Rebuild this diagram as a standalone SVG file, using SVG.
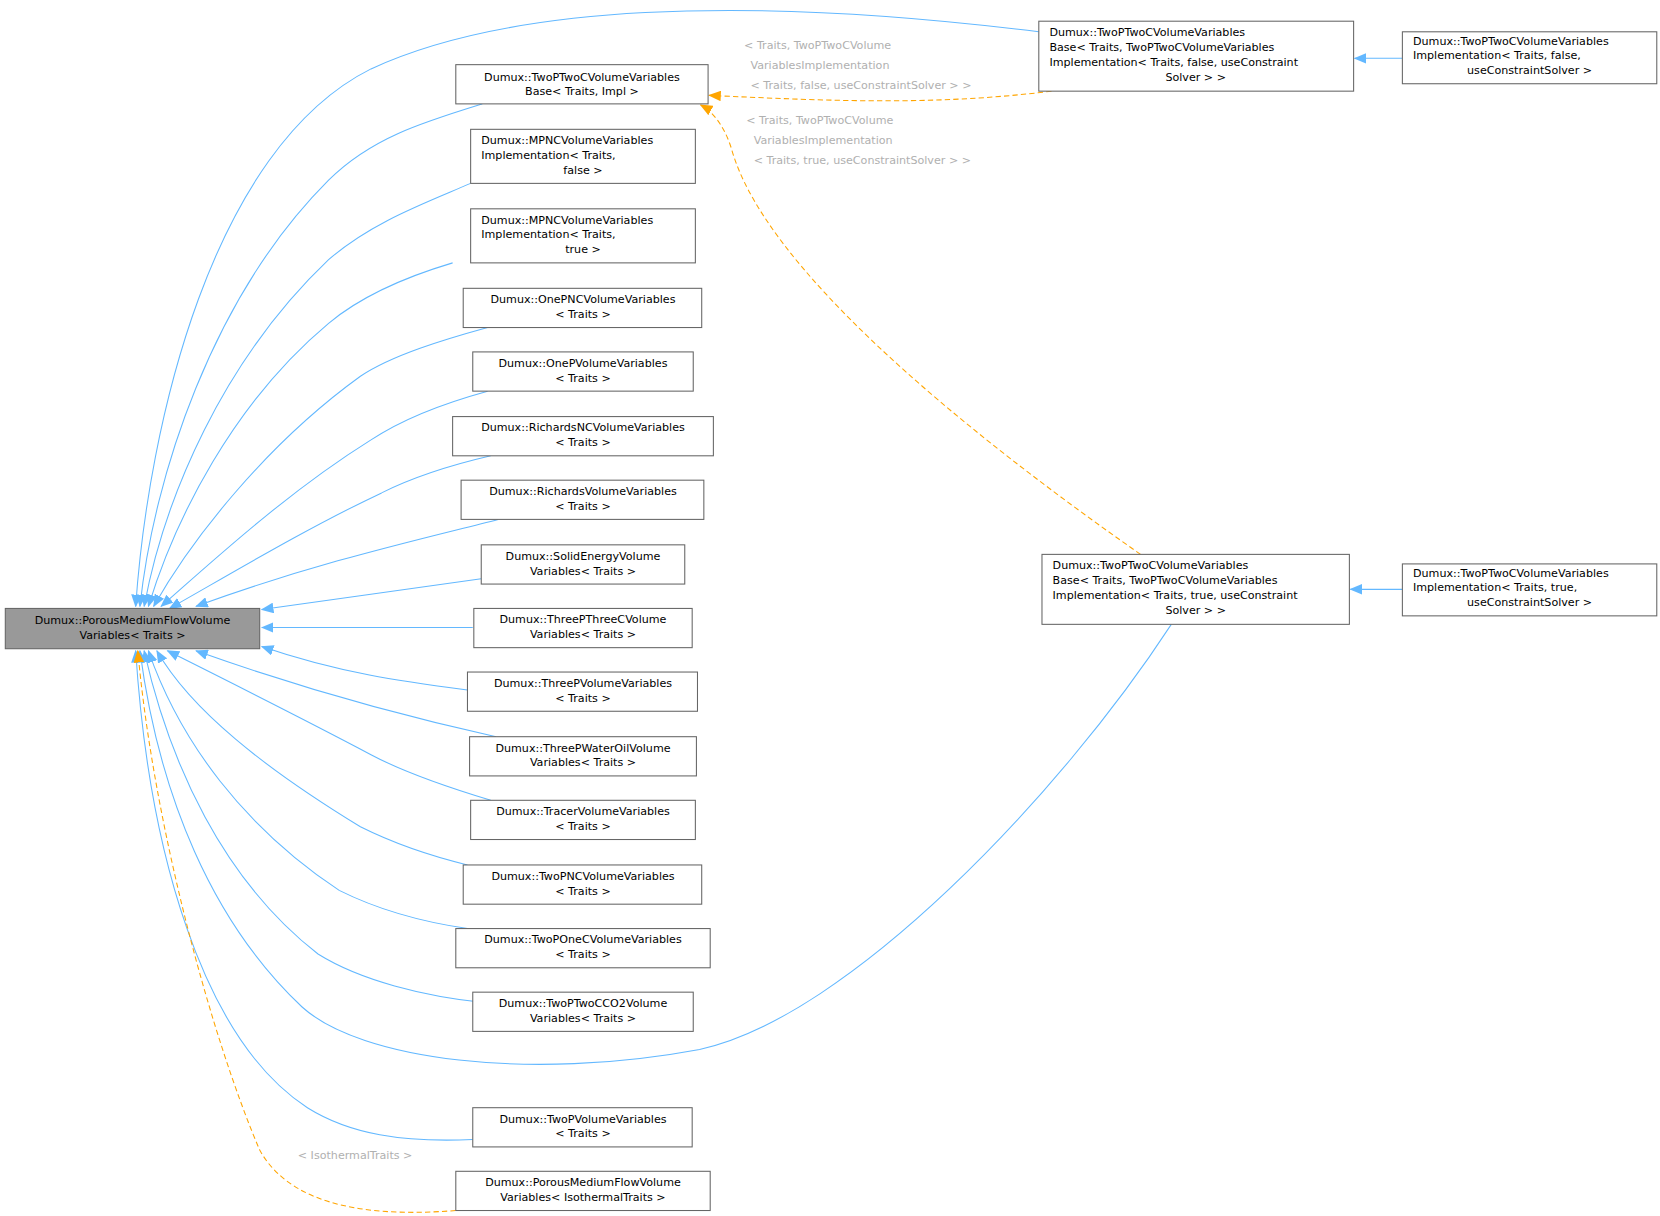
<svg xmlns="http://www.w3.org/2000/svg" width="1660" height="1216" viewBox="0 0 1660 1216">
<style>
.n rect{fill:#fff;stroke:#666;stroke-width:1}
.m rect{fill:#999;stroke:#666}
text{font-family:"DejaVu Sans",sans-serif;font-size:10.5px;fill:#000}
.c{text-anchor:middle}
.b{fill:none;stroke:#63b8ff;stroke-width:1;marker-end:url(#ab)}
.o{fill:none;stroke:#ffa500;stroke-width:1;stroke-dasharray:5,3;marker-end:url(#ao)}
.l{fill:#b0b0b0;font-size:10.5px}
</style>
<defs>
<marker id="ab" markerWidth="12" markerHeight="10" refX="11" refY="5" orient="auto" markerUnits="userSpaceOnUse"><path d="M0,0L12,5L0,10z" fill="#63b8ff"/></marker>
<marker id="ao" markerWidth="12" markerHeight="10" refX="11" refY="5" orient="auto" markerUnits="userSpaceOnUse"><path d="M0,0L12,5L0,10z" fill="#ffa500"/></marker>
</defs>
<rect width="1660" height="1216" fill="#fff"/>
<g transform="scale(1.06)">
<g id="edges">
<path class="b" d="M980,30C700,-5 480,5 350,65C200,140 140,400 128,572"/>
<path class="b" d="M455,98C400,115 350,130 310,170C200,280 145,450 132,572"/>
<path class="b" d="M444,173C400,192 350,210 310,245C210,340 155,470 136,572"/>
<path class="b" d="M427,248C380,262 340,280 310,305C220,380 165,490 140,572"/>
<path class="b" d="M460,309C420,320 370,335 340,355C250,420 180,510 145,572"/>
<path class="b" d="M460,369C420,380 380,395 350,415C270,465 200,530 152,572"/>
<path class="b" d="M463,430C420,440 390,450 360,465C290,498 220,540 160,574"/>
<path class="b" d="M470,490C400,508 300,530 185,572"/>
<path class="b" d="M454,546C380,556 320,565 247,575"/>
<path class="b" d="M446,592L247,592"/>
<path class="b" d="M441,651C380,643 320,635 247,610"/>
<path class="b" d="M468,695C400,680 300,655 185,614"/>
<path class="b" d="M463,755C420,742 380,728 350,712C280,675 210,640 158,614"/>
<path class="b" d="M441,816C400,806 370,795 340,780C250,725 180,670 148,614"/>
<path class="b" d="M441,876C400,870 360,860 320,840C230,780 170,700 140,614"/>
<path class="b" d="M458,946C400,940 340,925 300,900C210,830 160,720 136,614"/>
<path class="b" d="M1105,589C1000,750 800,960 660,990C500,1020 340,1000 285,950C200,870 150,750 132,614"/>
<path class="b" d="M446,1075C380,1078 330,1070 290,1045C190,980 140,800 128,614"/>
<path class="o" d="M430,1142C330,1150 270,1130 245,1085C200,980 145,780 130,614"/>
<path class="o" d="M992,86C880,100 780,95 669,90"/>
<path class="o" d="M1076,523C900,400 720,250 690,140C683,118 672,105 661,99"/>
<path class="b" d="M1323,55L1278,55"/>
<path class="b" d="M1323,556L1274,556"/>
<text class="l" x="335" y="1093" text-anchor="middle">&lt; IsothermalTraits &gt;</text>
<text class="l" x="702" y="46">&lt; Traits, TwoPTwoCVolume</text>
<text class="l" x="708" y="65">VariablesImplementation</text>
<text class="l" x="708" y="84">&lt; Traits, false, useConstraintSolver &gt; &gt;</text>
<text class="l" x="704" y="117">&lt; Traits, TwoPTwoCVolume</text>
<text class="l" x="711" y="136">VariablesImplementation</text>
<text class="l" x="711" y="155">&lt; Traits, true, useConstraintSolver &gt; &gt;</text>
</g>
<g id="main" class="m"><rect x="5" y="574" width="240" height="38"/><text class="c" x="125" y="589">Dumux::PorousMediumFlowVolume</text><text class="c" x="125" y="603">Variables&lt; Traits &gt;</text></g>
<g id="base" class="n"><rect x="430" y="61" width="238" height="37"/><text class="c" x="549" y="76">Dumux::TwoPTwoCVolumeVariables</text><text class="c" x="549" y="90">Base&lt; Traits, Impl &gt;</text></g>
<g id="mpncf" class="n"><rect x="444" y="122" width="212" height="51"/><text x="454" y="136">Dumux::MPNCVolumeVariables</text><text x="454" y="150">Implementation&lt; Traits,</text><text class="c" x="550" y="164">false &gt;</text></g>
<g id="mpnct" class="n"><rect x="444" y="197" width="212" height="51"/><text x="454" y="211">Dumux::MPNCVolumeVariables</text><text x="454" y="225">Implementation&lt; Traits,</text><text class="c" x="550" y="239">true &gt;</text></g>
<g id="onepnc" class="n"><rect x="437" y="272" width="225" height="37"/><text class="c" x="550" y="286">Dumux::OnePNCVolumeVariables</text><text class="c" x="550" y="300">&lt; Traits &gt;</text></g>
<g id="onep" class="n"><rect x="446" y="332" width="208" height="37"/><text class="c" x="550" y="346">Dumux::OnePVolumeVariables</text><text class="c" x="550" y="360">&lt; Traits &gt;</text></g>
<g id="richnc" class="n"><rect x="427" y="393" width="246" height="37"/><text class="c" x="550" y="407">Dumux::RichardsNCVolumeVariables</text><text class="c" x="550" y="421">&lt; Traits &gt;</text></g>
<g id="rich" class="n"><rect x="435" y="453" width="229" height="37"/><text class="c" x="550" y="467">Dumux::RichardsVolumeVariables</text><text class="c" x="550" y="481">&lt; Traits &gt;</text></g>
<g id="solid" class="n"><rect x="454" y="514" width="192" height="37"/><text class="c" x="550" y="528">Dumux::SolidEnergyVolume</text><text class="c" x="550" y="542">Variables&lt; Traits &gt;</text></g>
<g id="tptc" class="n"><rect x="447" y="574" width="206" height="37"/><text class="c" x="550" y="588">Dumux::ThreePThreeCVolume</text><text class="c" x="550" y="602">Variables&lt; Traits &gt;</text></g>
<g id="threep" class="n"><rect x="441" y="634" width="217" height="37"/><text class="c" x="550" y="648">Dumux::ThreePVolumeVariables</text><text class="c" x="550" y="662">&lt; Traits &gt;</text></g>
<g id="tpwo" class="n"><rect x="443" y="695" width="214" height="37"/><text class="c" x="550" y="709">Dumux::ThreePWaterOilVolume</text><text class="c" x="550" y="723">Variables&lt; Traits &gt;</text></g>
<g id="tracer" class="n"><rect x="444" y="755" width="212" height="37"/><text class="c" x="550" y="769">Dumux::TracerVolumeVariables</text><text class="c" x="550" y="783">&lt; Traits &gt;</text></g>
<g id="twopnc" class="n"><rect x="437" y="816" width="225" height="37"/><text class="c" x="550" y="830">Dumux::TwoPNCVolumeVariables</text><text class="c" x="550" y="844">&lt; Traits &gt;</text></g>
<g id="twoponec" class="n"><rect x="430" y="876" width="240" height="37"/><text class="c" x="550" y="890">Dumux::TwoPOneCVolumeVariables</text><text class="c" x="550" y="904">&lt; Traits &gt;</text></g>
<g id="co2" class="n"><rect x="446" y="936" width="208" height="37"/><text class="c" x="550" y="950">Dumux::TwoPTwoCCO2Volume</text><text class="c" x="550" y="964">Variables&lt; Traits &gt;</text></g>
<g id="twop" class="n"><rect x="446" y="1045" width="207" height="37"/><text class="c" x="550" y="1059">Dumux::TwoPVolumeVariables</text><text class="c" x="550" y="1073">&lt; Traits &gt;</text></g>
<g id="iso" class="n"><rect x="430" y="1105" width="240" height="37"/><text class="c" x="550" y="1119">Dumux::PorousMediumFlowVolume</text><text class="c" x="550" y="1133">Variables&lt; IsothermalTraits &gt;</text></g>
<g id="basef" class="n"><rect x="980" y="20" width="297" height="66"/><text x="990" y="34">Dumux::TwoPTwoCVolumeVariables</text><text x="990" y="48">Base&lt; Traits, TwoPTwoCVolumeVariables</text><text x="990" y="62">Implementation&lt; Traits, false, useConstraint</text><text class="c" x="1128" y="76">Solver &gt; &gt;</text></g>
<g id="implf" class="n"><rect x="1323" y="30" width="240" height="49"/><text x="1333" y="42">Dumux::TwoPTwoCVolumeVariables</text><text x="1333" y="56">Implementation&lt; Traits, false,</text><text class="c" x="1443" y="70">useConstraintSolver &gt;</text></g>
<g id="baset" class="n"><rect x="983" y="523" width="290" height="66"/><text x="993" y="537">Dumux::TwoPTwoCVolumeVariables</text><text x="993" y="551">Base&lt; Traits, TwoPTwoCVolumeVariables</text><text x="993" y="565">Implementation&lt; Traits, true, useConstraint</text><text class="c" x="1128" y="579">Solver &gt; &gt;</text></g>
<g id="implt" class="n"><rect x="1323" y="532" width="240" height="49"/><text x="1333" y="544">Dumux::TwoPTwoCVolumeVariables</text><text x="1333" y="558">Implementation&lt; Traits, true,</text><text class="c" x="1443" y="572">useConstraintSolver &gt;</text></g>
</g>
</svg>
